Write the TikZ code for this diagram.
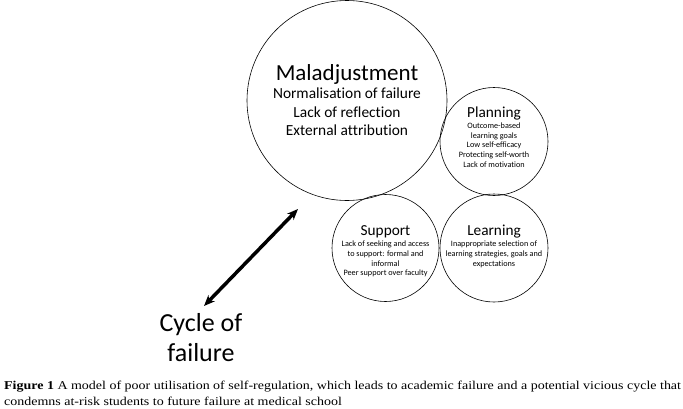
\documentclass[tikz,border=0pt]{standalone}
\usepackage{fontspec}
\setmainfont{Carlito}[Ligatures=NoCommon]
\newfontfamily\capfont{Liberation Serif}[FakeStretch=1.165]
\usetikzlibrary{arrows.meta}
\begin{document}
\begin{tikzpicture}[x=1pt,y=-1pt,
  ring/.style={draw,circle,line width=0.6pt,inner sep=0pt},
  txt/.style={align=center,inner sep=0pt},
  head/.style={txt,font=\fontsize{15.3}{17}\selectfont},
  body/.style={txt,font=\fontsize{8.2}{9.8}\selectfont},
  cyc/.style={<->,>={Stealth[length=11pt,width=9pt]},line width=3.5pt}]
\useasboundingbox (0,0) rectangle (683,408);
\node[ring,minimum size=200pt] (mal) at (347,100.5) {};
\node[ring,minimum size=108pt] (plan) at (494,141.5) {};
\node[ring,minimum size=107pt] (sup) at (385.5,248) {};
\node[ring,minimum size=108pt] (learn) at (494,248) {};
\node[txt,font=\fontsize{23}{25}\selectfont] (malh) at (347,74) {Maladjustment};
\node[txt,font=\fontsize{15.4}{18.2}\selectfont,anchor=north] (malb) at (347,88) {Normalisation of failure\\Lack of reflection\\External attribution};
\node[head] (planh) at (494,113) {Planning};
\node[body,anchor=north] (planb) at (494,122.5) {Outcome-based\\learning goals\\Low self-efficacy\\Protecting self-worth\\Lack of motivation};
\node[head] (suph) at (385.5,232) {Support};
\node[body,anchor=north] (supb) at (385.5,240.5) {Lack of seeking and access\\to support: formal and\\informal\\Peer support over faculty};
\node[head] (learnh) at (494,232) {Learning};
\node[body,anchor=north] (learnb) at (494,240.5) {Inappropriate selection of\\learning strategies, goals and\\expectations};
\node[txt,font=\fontsize{26}{30}\selectfont] (cycle) at (201,338) {Cycle of\\failure};
\coordinate (a1) at (298,209);
\coordinate (a2) at (204,306);
\draw[cyc] (a1) -- (a2);
\node[anchor=base west,inner sep=0pt,align=left,font=\capfont\fontsize{12}{16}\selectfont] (cap) at (4,405) {\textbf{Figure 1} A model of poor utilisation of self-regulation, which leads to academic failure and a potential vicious cycle that\\condemns at-risk students to future failure at medical school};
\end{tikzpicture}
\end{document}
